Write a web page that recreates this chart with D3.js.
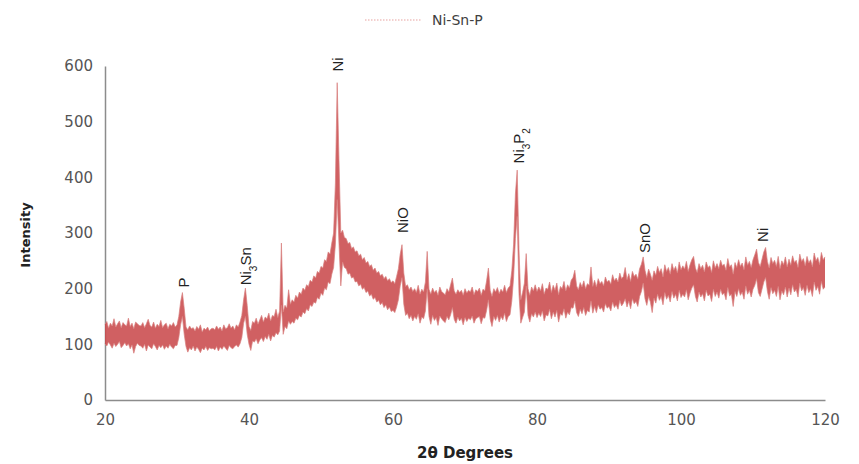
<!DOCTYPE html>
<html>
<head>
<meta charset="utf-8">
<script src="https://cdn.jsdelivr.net/npm/d3@7"></script>
<style>
  body { margin: 0; background: #fff; }
  svg { display: block; }
</style>
</head>
<body>
<svg id="chart"></svg>
<script>
// XRD scan, 20..120 deg at 0.25 deg steps. The trace is drawn as a noisy band,
// so each step keeps the high and the low reading seen in the figure.
const scanStart = 20;
const scanStep = 0.25;
const upper = [
  136,141,129,138,133,146,131,137,142,130,139,135,133,147,132,138,128,140,137,134,
  133,139,130,137,145,134,131,140,129,136,132,143,130,135,138,128,136,133,139,131,
  135,150,176,193,165,131,126,133,128,130,124,132,127,135,122,129,126,131,124,128,
  129,126,133,127,131,124,135,128,130,137,129,133,126,135,131,140,152,180,201,170,
  132,125,141,138,147,136,144,152,140,149,146,156,142,152,150,163,148,160,282,158,
  170,165,198,172,180,176,188,183,194,190,201,197,207,204,215,212,223,219,231,228,
  240,237,252,249,266,262,282,300,390,570,430,300,305,292,290,281,283,272,275,266,
  268,259,262,252,256,246,249,240,243,233,237,228,231,223,226,218,222,214,218,211,
  214,209,222,236,262,279,228,204,207,198,203,195,200,193,206,190,199,194,212,267,
  199,190,201,193,197,188,203,195,192,189,200,194,207,219,196,190,198,193,197,188,
  200,192,197,194,203,189,198,195,201,188,199,196,214,237,197,186,200,194,202,191,
  199,194,206,193,201,205,232,280,370,413,270,180,193,210,263,200,188,203,196,207,
  195,203,196,209,190,201,199,212,193,206,197,210,189,204,200,213,196,207,201,215,
  220,233,205,198,211,203,214,200,209,206,239,204,215,203,218,209,213,205,221,212,
  215,208,225,214,219,212,228,218,222,238,216,227,213,231,222,226,217,236,244,257,
  233,220,235,226,215,232,224,240,229,236,221,243,231,238,226,245,233,240,228,248,
  234,241,235,249,231,243,252,258,237,229,245,236,242,230,248,238,241,229,250,237,
  245,236,251,241,244,233,254,239,243,226,247,238,252,240,246,234,257,242,249,238,
  252,261,271,247,240,253,266,274,249,237,256,245,251,240,258,236,250,243,257,239,
  253,242,259,247,251,238,262,249,254,241,258,246,252,239,264,250,256,243,265,252,
  257
];
const lower = [
  101,97,104,99,93,102,96,100,105,94,98,103,97,101,92,99,84,96,102,98,
  97,93,100,88,99,95,92,101,96,90,98,94,99,91,97,93,100,95,92,98,
  98,112,135,150,118,96,86,94,90,97,88,95,91,85,93,90,96,89,94,92,
  93,90,96,88,95,91,97,93,89,98,94,92,96,99,95,101,112,138,150,118,
  100,89,106,104,110,101,108,112,105,114,109,118,106,116,113,121,117,124,170,118,
  132,128,142,136,141,138,147,144,152,149,158,155,164,160,171,168,176,174,184,181,
  192,188,201,198,212,209,226,238,280,360,280,205,248,238,236,226,228,219,221,212,
  213,205,208,199,202,193,196,187,190,181,184,176,179,171,175,166,171,162,167,159,
  161,157,167,180,205,220,172,152,156,146,152,142,150,145,155,138,149,146,160,200,
  150,136,152,143,148,134,151,146,142,139,150,144,153,166,145,138,149,142,147,135,
  148,141,147,144,151,138,146,148,150,137,148,147,161,180,145,132,150,143,152,140,
  150,144,156,141,150,153,178,220,290,330,190,138,148,158,205,152,140,155,149,158,
  148,156,150,160,142,153,151,163,146,158,149,161,140,155,152,164,147,158,153,166,
  165,178,157,150,163,155,166,152,161,158,178,156,168,157,171,163,166,158,173,165,
  168,160,176,166,171,163,179,169,174,182,167,178,164,182,173,177,168,186,195,210,
  182,170,186,176,157,183,174,190,179,186,171,193,181,188,176,195,183,190,178,197,
  184,190,185,198,180,192,201,207,186,176,194,185,191,178,197,187,190,177,199,186,
  194,183,199,189,192,180,202,187,190,168,195,186,200,188,194,181,205,190,197,185,
  199,206,218,193,186,199,212,220,195,181,202,191,197,186,204,180,196,189,203,185,
  201,189,207,194,199,185,210,196,202,188,206,193,200,186,212,197,204,190,213,199,
  203
];
const seriesName = 'Ni-Sn-P';

const xTicks = [20, 40, 60, 80, 100, 120];
const yTicks = [0, 100, 200, 300, 400, 500, 600];

// phase labels: angle and intensity where the label starts
const phaseAngles = [30.8, 39.5, 52.2, 61.2, 77.3, 94.8, 111.3];
const phaseLevels = [202, 206, 590, 300, 425, 264, 284];
const phaseNames = ['P', 'Ni3Sn', 'Ni', 'NiO', 'Ni3P2', 'SnO', 'Ni'];

const width = 859, height = 464;
const margin = { left: 105, right: 34, top: 66, bottom: 64 };

const svg = d3.select('#chart')
  .attr('width', width)
  .attr('height', height)
  .style('font-family', '"Liberation Sans", Arial, sans-serif');

const x = d3.scaleLinear()
  .domain([20, 120])
  .range([margin.left, width - margin.right]);

const y = d3.scaleLinear()
  .domain([0, 600])
  .range([height - margin.bottom, margin.top]);

const band = upper.map((u, i) => ({ a: scanStart + i * scanStep, hi: u, lo: lower[i] }));

// axes
const xAxis = svg.append('g')
  .attr('transform', `translate(0, ${y(0)})`)
  .call(d3.axisBottom(x).tickValues(xTicks).tickSize(0).tickPadding(14));

const yAxis = svg.append('g')
  .attr('transform', `translate(${x(20)}, 0)`)
  .call(d3.axisLeft(y).tickValues(yTicks).tickSize(0).tickPadding(12));

[xAxis, yAxis].forEach(g => {
  g.select('.domain').attr('stroke', '#8c8c8c').attr('stroke-width', 1.5);
  g.selectAll('text')
    .attr('fill', '#555')
    .style('font-family', '"DejaVu Sans", sans-serif')
    .style('font-size', '15px');
});

// the scan
const area = d3.area()
  .x(d => x(d.a))
  .y0(d => y(d.lo))
  .y1(d => y(d.hi));

svg.append('path')
  .datum(band)
  .attr('fill', '#c94a4c')
  .attr('fill-opacity', 0.88)
  .attr('d', area);

const edge = key => d3.line().x(d => x(d.a)).y(d => y(d[key]));

['hi', 'lo'].forEach(k => {
  svg.append('path')
    .datum(band)
    .attr('fill', 'none')
    .attr('stroke', '#d9807f')
    .attr('stroke-width', 1)
    .attr('stroke-opacity', 0.7)
    .attr('d', edge(k));
});

// phase labels, rotated
const sub = name => name.replace(/(\d)/g, '<tspan baseline-shift="sub" font-size="10">$1</tspan>');

phaseNames.forEach((name, i) => {
  svg.append('text')
    .attr('transform', `translate(${x(phaseAngles[i]) + 6}, ${y(phaseLevels[i])}) rotate(-90)`)
    .attr('fill', '#222')
    .style('font-size', '15px')
    .html(sub(name));
});

// axis titles
svg.append('text')
  .attr('x', (x(20) + x(120)) / 2)
  .attr('y', 458)
  .attr('text-anchor', 'middle')
  .attr('font-weight', 'bold')
  .attr('fill', '#222')
  .style('font-family', '"DejaVu Sans", sans-serif')
  .style('font-size', '15px')
  .text('2θ Degrees');

svg.append('text')
  .attr('transform', `translate(30, ${(y(0) + y(600)) / 2 + 2}) rotate(-90)`)
  .attr('text-anchor', 'middle')
  .attr('font-weight', 'bold')
  .attr('fill', '#222')
  .style('font-family', '"DejaVu Sans", sans-serif')
  .style('font-size', '13px')
  .text('Intensity');

// legend
const legend = svg.append('g').attr('transform', 'translate(365, 20)');
legend.append('line')
  .attr('x1', 0).attr('x2', 57)
  .attr('stroke', '#e8a2a0')
  .attr('stroke-width', 1.2)
  .attr('stroke-dasharray', '1.5,1.5');
legend.append('text')
  .attr('x', 67).attr('y', 5)
  .attr('fill', '#404040')
  .style('font-family', '"DejaVu Sans", sans-serif')
  .style('font-size', '14px')
  .text(seriesName);
</script>
</body>
</html>
